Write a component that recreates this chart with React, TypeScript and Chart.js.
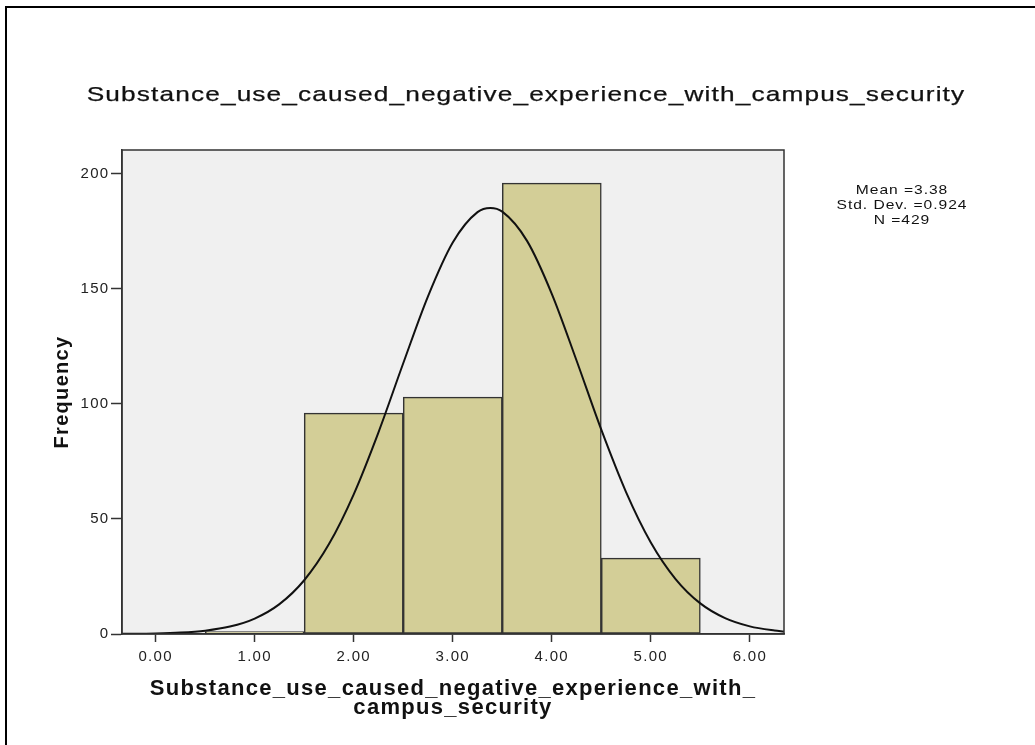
import React, { useEffect, useRef } from "react";
import { Chart, registerables } from "chart.js";

Chart.register(...registerables);

// ---------- data ----------
const CHART_TITLE = "Substance_use_caused_negative_experience_with_campus_security";
const X_TITLE = ["Substance_use_caused_negative_experience_with_", "campus_security"];
const Y_TITLE = "Frequency";

const BIN_CENTERS = [1, 2, 3, 4, 5];
const FREQUENCIES = [1, 96, 103, 196, 33];

// fitted normal curve
const CURVE_X = [-0.34, 0, 0.25, 0.5, 0.75, 1, 1.25, 1.5, 1.75, 2, 2.25, 2.5, 2.75, 3, 3.25, 3.38, 3.5, 3.75, 4, 4.25, 4.5, 4.75, 5, 5.25, 5.5, 5.75, 6, 6.25, 6.345];
const CURVE_Y = [0.06, 0.23, 0.6, 1.44, 3.22, 6.72, 12.99, 23.37, 39.08, 60.73, 87.68, 117.7, 146.8, 170.2, 183.4, 185.2, 183.6, 170.9, 147.9, 118.9, 88.8, 61.7, 39.8, 23.9, 13.3, 6.9, 3.32, 1.49, 1.04];

const X_TICKS = [0, 1, 2, 3, 4, 5, 6];
const Y_TICKS = [0, 50, 100, 150, 200];
const STATS_LINES = ["Mean =3.38", "Std. Dev. =0.924", "N =429"];

const FONT = "'Liberation Sans', Arial, sans-serif";

export default function App() {
  const ref = useRef<HTMLCanvasElement | null>(null);

  useEffect(() => {
    const canvas = ref.current;
    if (!canvas) return;

    const decor = {
      id: "decor",
      beforeDraw(chart: any) {
        const { ctx, chartArea: a } = chart;
        (ctx as any).letterSpacing = "1.3px";
        ctx.save();
        ctx.fillStyle = "#f0f0f0";
        ctx.fillRect(a.left, a.top, a.right - a.left, a.bottom - a.top);
        ctx.restore();
      },
      afterDatasetsDraw(chart: any) {
        const { ctx, chartArea: a } = chart;
        ctx.save();
        ctx.strokeStyle = "#333";
        ctx.lineWidth = 1.5;
        ctx.strokeRect(a.left, a.top, a.right - a.left, a.bottom - a.top);
        ctx.restore();
      },
      afterDraw(chart: any) {
        const { ctx } = chart;
        ctx.save();
        ctx.fillStyle = "#111";
        ctx.strokeStyle = "#111";
        ctx.textAlign = "center";
        ctx.textBaseline = "alphabetic";
        // title: widened glyphs plus a little spacing
        ctx.save();
        ctx.translate(526, 101);
        ctx.scale(1.25, 1);
        (ctx as any).letterSpacing = "0.9px";
        ctx.font = `normal 21px ${FONT}`;
        ctx.lineWidth = 0.25;
        ctx.fillText(CHART_TITLE, 0, 0);
        ctx.strokeText(CHART_TITLE, 0, 0);
        ctx.restore();
        // statistics box
        ctx.save();
        ctx.translate(902, 194);
        ctx.scale(1.2, 1);
        (ctx as any).letterSpacing = "0.8px";
        ctx.font = `normal 13px ${FONT}`;
        STATS_LINES.forEach((s, i) => ctx.fillText(s, 0, i * 15));
        ctx.restore();
        ctx.restore();
      },
    };

    const chart = new Chart(canvas, {
      data: {
        datasets: [
          {
            type: "line",
            data: CURVE_X.map((x, i) => ({ x, y: CURVE_Y[i] })),
            borderColor: "#111",
            borderWidth: 2,
            pointRadius: 0,
            fill: false,
            cubicInterpolationMode: "monotone",
            order: 1,
          } as any,
          {
            type: "bar",
            data: BIN_CENTERS.map((x, i) => ({ x, y: FREQUENCIES[i] })),
            backgroundColor: "#d3ce97",
            borderColor: "#333",
            borderWidth: 1.5,
            borderSkipped: false,
            barPercentage: 1,
            categoryPercentage: 1,
            order: 2,
          } as any,
        ],
      },
      options: {
        responsive: false,
        animation: false,
        devicePixelRatio: 1,
        layout: { padding: { left: 0, top: 150, right: 251, bottom: 0 } },
        plugins: { legend: { display: false }, tooltip: { enabled: false } },
        scales: {
          x: {
            type: "linear",
            min: -0.34,
            max: 6.345,
            offset: false,
            afterFit: (s: any) => { s.height = 111; },
            afterBuildTicks: (s: any) => { s.ticks = X_TICKS.map((v) => ({ value: v })); },
            ticks: {
              callback: (v: any) => Number(v).toFixed(2),
              font: { family: FONT, size: 15 },
              color: "#222",
              padding: 6,
              maxRotation: 0,
              autoSkip: false,
            },
            grid: { offset: false, drawOnChartArea: false, drawTicks: true, tickLength: 8, color: "#333", tickWidth: 1.5 },
            border: { display: true, color: "#333", width: 1.5 },
            title: {
              display: true,
              text: X_TITLE,
              font: { family: FONT, size: 22, weight: "bold", lineHeight: "19px" },
              color: "#111",
              padding: { top: 0, bottom: 27.5 },
            },
          },
          y: {
            type: "linear",
            min: 0,
            max: 210.4,
            afterFit: (s: any) => { s.width = 122; },
            afterBuildTicks: (s: any) => { s.ticks = Y_TICKS.map((v) => ({ value: v })); },
            ticks: {
              font: { family: FONT, size: 15 },
              color: "#222",
              padding: 1.5,
            },
            grid: { drawOnChartArea: false, drawTicks: true, tickLength: 11, color: "#333", tickWidth: 1.5 },
            border: { display: true, color: "#333", width: 1.5 },
            title: {
              display: true,
              text: Y_TITLE,
              font: { family: FONT, size: 20, weight: "bold" },
              color: "#111",
              padding: { top: 50, bottom: 0 },
            },
          },
        },
      },
      plugins: [decor],
    } as any);

    return () => chart.destroy();
  }, []);

  return (
    <div style={{ position: "fixed", left: 0, top: 0, width: 1035, height: 745, background: "#fff", overflow: "hidden" }}>
      <div
        style={{
          position: "absolute",
          left: 5,
          top: 6,
          width: 1030,
          height: 739,
          borderTop: "2px solid #000",
          borderLeft: "2px solid #000",
          boxSizing: "border-box",
        }}
      />
      <canvas
        ref={ref}
        width={1035}
        height={745}
        style={{ position: "absolute", left: 0, top: 0, width: 1035, height: 745, display: "block" }}
      />
    </div>
  );
}
